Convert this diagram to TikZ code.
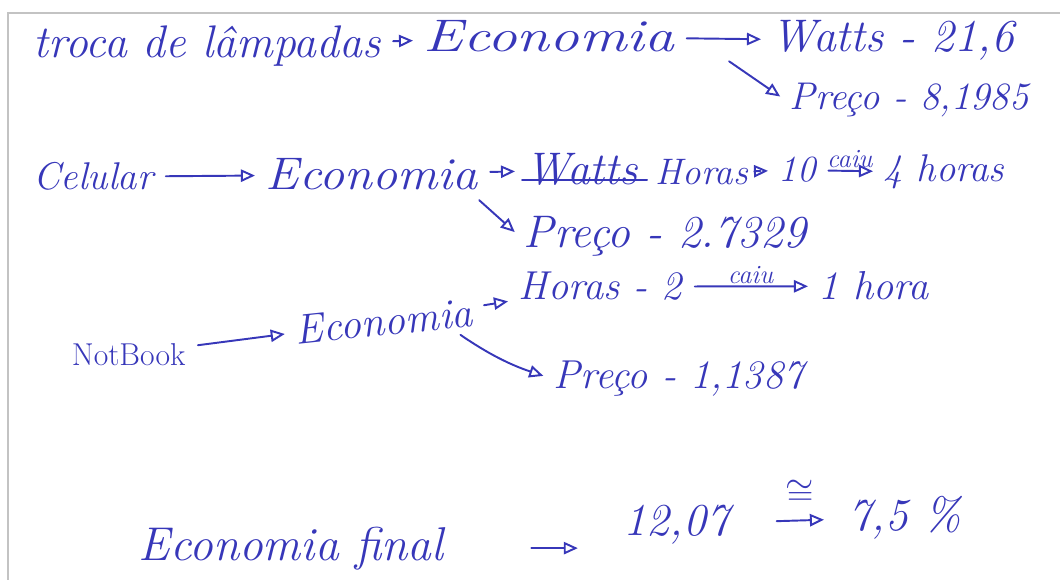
\documentclass[tikz,border=0pt]{standalone}
\usepackage{tikz}
\usetikzlibrary{arrows.meta,positioning}
\definecolor{ink}{RGB}{55,55,185}
\definecolor{paperedge}{RGB}{195,195,195}
\newcommand{\wider}[2]{\scalebox{#1}[1]{#2}}
\begin{document}
\begin{tikzpicture}[x=0.02cm,y=-0.02cm,
  hand/.style={text=ink,font=\fontsize{26}{30}\selectfont\itshape,inner sep=2pt,anchor=base west},
  handsm/.style={hand,font=\fontsize{22}{26}\selectfont\itshape},
  small/.style={text=ink,font=\fontsize{15}{17}\selectfont\itshape,inner sep=1pt},
  pen/.style={draw=ink,line width=1.1pt,line cap=round},
  arr/.style={pen,-{Triangle[open,length=8pt,width=7pt]},shorten <=5pt,shorten >=4pt}]
\useasboundingbox (0,0) rectangle (1060,580);
% Page edge
\draw[paperedge,line width=1.2pt] (8,580) -- (8,13) -- (1060,13);

% Troca de lampadas
\node[hand] (troca) at (30,58) {troca de lâmpadas};
\node[hand] (eco1) at (420,52) {\wider{1.3}{Economia}};
\node[hand] (watts1) at (768,52) {Watts - 21,6};
\node[handsm] (preco1) at (786,110) {Preço - 8,1985};
\draw[arr] (troca) -- (eco1);
\draw[arr] (eco1) -- (watts1);
\draw[arr] ([xshift=25pt]eco1.south east) -- (preco1.west);

% Celular
\node[hand,font=\fontsize{22}{26}\selectfont\itshape] (cel) at (30,190) {Celular};
\node[hand] (eco2) at (262,190) {\wider{1.1}{Economia}};
\node[hand] (watts2) at (522,185) {Watts};
\node[handsm,font=\fontsize{21}{25}\selectfont\itshape] (horas2) at (652,185) {Horas};
\node[handsm,font=\fontsize{21}{25}\selectfont\itshape] (dez) at (775,182) {10};
\node[handsm] (quatro) at (880,182) {4 horas};
\node[hand] (preco2) at (520,248) {Preço - 2.7329};
\draw[pen] ([yshift=3pt]watts2.base west) -- ([yshift=3pt,xshift=3pt]watts2.base east);
\draw[arr] (cel) -- (eco2);
\draw[arr] (eco2) -- (watts2);
\draw[arr] (horas2) -- (dez);
\draw[arr] (dez) -- node[small,above] (caiu1) {caiu} (quatro);
\draw[arr] ([xshift=-5pt]eco2.south east) -- (preco2.west);

% NotBook
\node[hand,font=\fontsize{18}{22}\selectfont\upshape] (note) at (68,365) {NotBook};
\node[hand,font=\fontsize{24}{28}\selectfont\itshape,rotate=6] (eco3) at (293,345) {Economia};
\node[handsm,font=\fontsize{23}{27}\selectfont\itshape] (horas3) at (515,300) {Horas - 2};
\node[handsm,font=\fontsize{23}{27}\selectfont\itshape] (umah) at (815,300) {1 hora};
\node[handsm,font=\fontsize{23}{27}\selectfont\itshape] (preco3) at (550,388) {Preço - 1,1387};
\draw[arr] (note) -- (eco3);
\draw[arr] (eco3) -- (horas3);
\draw[arr] (horas3) -- node[small,above] (caiu2) {caiu} (umah);
\draw[arr] ([xshift=-14pt]eco3.south east) to[bend right=8] (preco3.west);

% Economia final
\node[hand,font=\fontsize{27}{31}\selectfont\itshape] (ecof) at (135,560) {Economia final};
\node[hand] (valor) at (620,535) {12,07};
\node[hand] (pct) at (845,530) {7,5 \%};
\draw[arr,shorten <=48pt,shorten >=24pt] (ecof.east) -- (ecof.east -| valor.west);
\draw[arr,shorten <=25pt,shorten >=12pt] (valor) -- node[pos=0.6,text=ink,above=8pt,inner sep=0pt,font=\fontsize{20}{22}\selectfont] (aprox) {$\cong$} (pct);
\end{tikzpicture}
\end{document}
